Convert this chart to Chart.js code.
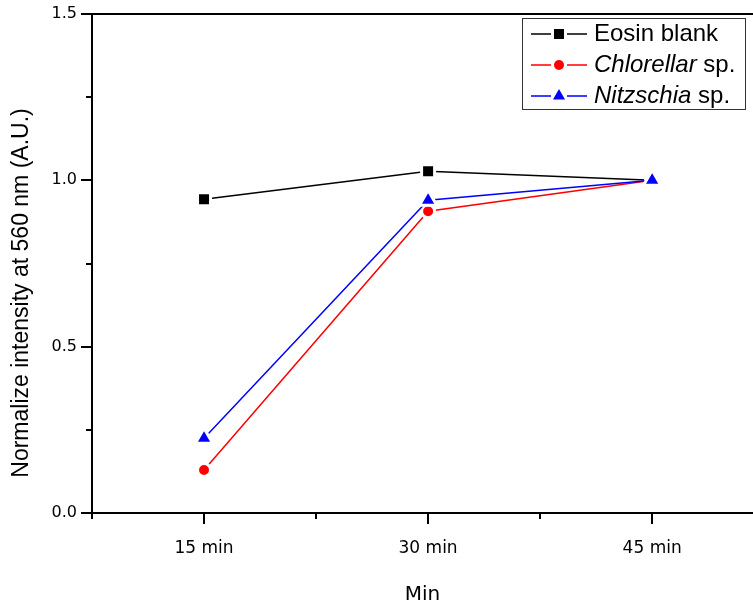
<!DOCTYPE html>
<html>
<head>
<meta charset="utf-8">
<script src="https://cdn.jsdelivr.net/npm/chart.js@4.4.0/dist/chart.umd.min.js"></script>
<style>
html,body{margin:0;padding:0;overflow:hidden;background:#fff;width:753px;height:605px;}
#c{display:block;}
</style>
</head>
<body>
<canvas id="c" width="753" height="605" style="width:753px;height:605px"></canvas>
<script>
// ---- data ----
const categories = ['15 min', '30 min', '45 min'];
const eosinBlank = [0.943, 1.027, 1.000];
const chlorella  = [0.129, 0.907, 1.000];
const nitzschia  = [0.225, 0.940, 1.000];
const yTickValues  = [0, 0.5, 1.0, 1.5];
const yMinorValues = [0.25, 0.75, 1.25];
const seriesNames  = ['Eosin blank', 'Chlorellar sp.', 'Nitzschia sp.'];
const legendItalic = ['', 'Chlorellar', 'Nitzschia'];
const legendPlain  = ['Eosin blank', ' sp.', ' sp.'];
const xTitle = 'Min';
const yTitle = 'Normalize intensity at 560 nm (A.U.)';

const toPoints = arr => arr.map((v, i) => ({x: i + 1, y: v}));
const X_MIN = 0.5, X_MAX = 3.45;

const decor = {
  id: 'decor',
  afterDraw(chart) {
    const {ctx, chartArea: a, scales: {x, y}} = chart;
    ctx.save();
    ctx.strokeStyle = '#000';
    ctx.lineWidth = 2;
    const rightEdge = x.getPixelForValue(categories.length + 0.5);
    ctx.beginPath();
    ctx.moveTo(a.left - 1, a.top); ctx.lineTo(rightEdge, a.top);
    ctx.moveTo(rightEdge, a.top); ctx.lineTo(rightEdge, a.bottom);
    ctx.stroke();
    // y ticks
    ctx.beginPath();
    yTickValues.forEach(v => { const p = Math.round(y.getPixelForValue(v)); ctx.moveTo(a.left - 11, p); ctx.lineTo(a.left, p); });
    yMinorValues.forEach(v => { const p = Math.round(y.getPixelForValue(v)); ctx.moveTo(a.left - 6, p); ctx.lineTo(a.left, p); });
    // x ticks
    categories.forEach((c, i) => {
      const p = Math.round(x.getPixelForValue(i + 1));
      ctx.moveTo(p, a.bottom); ctx.lineTo(p, a.bottom + 11);
    });
    for (let i = 0; i <= categories.length; i++) {
      const p = Math.round(x.getPixelForValue(i + 0.5));
      ctx.moveTo(p, a.bottom); ctx.lineTo(p, a.bottom + 6);
    }
    ctx.stroke();
    // y title
    ctx.save();
    ctx.translate(22, 293);
    ctx.rotate(-Math.PI / 2);
    ctx.font = '23px "Liberation Sans"';
    ctx.fillStyle = '#000';
    ctx.textAlign = 'center';
    ctx.textBaseline = 'middle';
    ctx.fillText(yTitle, 0, 0);
    ctx.restore();
    // legend
    const L = {x: 522, y: 18, w: 223, h: 91};
    ctx.fillStyle = '#fff';
    ctx.fillRect(L.x, L.y, L.w, L.h);
    ctx.strokeStyle = '#333';
    ctx.lineWidth = 1;
    ctx.strokeRect(L.x + 0.5, L.y + 0.5, L.w, L.h);
    const rows = [34, 65, 96];
    chart.data.datasets.forEach((ds, i) => {
      const ry = rows[i];
      ctx.strokeStyle = ds.borderColor;
      ctx.lineWidth = 1.3;
      ctx.beginPath();
      ctx.moveTo(531, ry); ctx.lineTo(551, ry);
      ctx.moveTo(567, ry); ctx.lineTo(587, ry);
      ctx.stroke();
      ctx.fillStyle = ds.backgroundColor;
      Chart.helpers.drawPoint(ctx, {pointStyle: ds.pointStyle, radius: ds.legendRadius, rotation: 0, borderWidth: 0}, 559, ry);
      ctx.fillStyle = '#000';
      ctx.textAlign = 'left';
      ctx.textBaseline = 'middle';
      let tx = 594;
      if (legendItalic[i]) {
        ctx.font = 'italic 24px "Liberation Sans"';
        ctx.fillText(legendItalic[i], tx, ry);
        tx += ctx.measureText(legendItalic[i]).width;
      }
      ctx.font = '24px "Liberation Sans"';
      ctx.fillText(legendPlain[i], tx, ry);
    });
    ctx.restore();
  }
};

new Chart(document.getElementById('c'), {
  type: 'line',
  data: {
    datasets: [
      {label: seriesNames[0], data: toPoints(eosinBlank), borderColor: '#000000', backgroundColor: '#000000',
       pointStyle: 'rect', pointRadius: 9.2, legendRadius: 7.1, order: 2},
      {label: seriesNames[1], data: toPoints(chlorella), borderColor: '#ff0000', backgroundColor: '#ff0000',
       pointStyle: 'circle', pointRadius: 6.5, legendRadius: 5, order: 1},
      {label: seriesNames[2], data: toPoints(nitzschia), borderColor: '#0000ff', backgroundColor: '#0000ff',
       pointStyle: 'triangle', pointRadius: 10, legendRadius: 7, order: 0}
    ].map(d => Object.assign({borderWidth: 1.5, tension: 0, pointBorderColor: '#ffffff', pointBorderWidth: 3,
      pointHoverRadius: d.pointRadius, fill: false, clip: false}, d))
  },
  options: {
    responsive: false,
    maintainAspectRatio: false,
    animation: false,
    devicePixelRatio: 1,
    layout: {padding: 0, autoPadding: false},
    plugins: {legend: {display: false}, tooltip: {enabled: false}, title: {display: false}},
    scales: {
      x: {
        type: 'linear',
        bounds: 'data',
        min: X_MIN, max: X_MAX,
        grid: {display: false, drawTicks: false},
        border: {display: true, color: '#000', width: 2},
        afterBuildTicks: s => { s.ticks = categories.map((c, i) => ({value: i + 1})); },
        ticks: {color: '#000', font: {family: 'DejaVu Sans', size: 17}, padding: 25, maxRotation: 0, autoSkip: false,
          callback: v => categories[Math.round(v) - 1]},
        title: {display: true, text: xTitle, color: '#000', font: {family: 'DejaVu Sans', size: 20}, padding: {top: 0, bottom: -2}},
        afterFit: s => { s.height = 92; s.paddingLeft = 0; s.paddingRight = 0; }
      },
      y: {
        min: 0, max: 1.5,
        grid: {display: false, drawTicks: false},
        border: {display: true, color: '#000', width: 2},
        afterBuildTicks: s => { s.ticks = yTickValues.map(v => ({value: v})); },
        ticks: {color: '#000', font: {family: 'DejaVu Sans', size: 16}, padding: 15,
          callback: v => Number(v).toFixed(1)},
        afterFit: s => { s.width = 92; s.paddingTop = 14; s.paddingBottom = 0; }
      }
    }
  },
  plugins: [decor]
});
</script>
</body>
</html>
